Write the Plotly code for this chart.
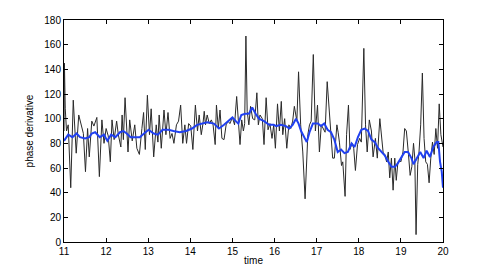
import plotly.graph_objects as go

# raw phase derivative (black)
raw_t = [
    11.00, 11.01, 11.03, 11.06, 11.10, 11.16, 11.22, 11.29, 11.35, 11.40,
    11.46, 11.51, 11.56, 11.60, 11.66, 11.71, 11.78, 11.84, 11.90, 11.95,
    12.00, 12.05, 12.10, 12.14, 12.19, 12.25, 12.29, 12.35, 12.38, 12.41,
    12.45, 12.52, 12.56, 12.62, 12.68, 12.73, 12.79, 12.85, 12.89, 12.93,
    12.98, 13.03, 13.07, 13.13, 13.19, 13.23, 13.26, 13.31, 13.375, 13.42,
    13.47, 13.52, 13.565, 13.61, 13.67, 13.72, 13.77, 13.82, 13.87, 13.91,
    13.96, 14.01, 14.06, 14.12, 14.17, 14.21, 14.26, 14.30, 14.33, 14.36,
    14.40, 14.45, 14.50, 14.54, 14.59, 14.62, 14.665, 14.705, 14.75, 14.80,
    14.85, 14.895, 14.94, 15.00, 15.05, 15.10, 15.14, 15.18, 15.22, 15.26,
    15.29, 15.32, 15.35, 15.39, 15.43, 15.48, 15.53, 15.58, 15.615, 15.655,
    15.71, 15.75, 15.80, 15.845, 15.89, 15.94, 15.98, 16.02, 16.07, 16.115,
    16.16, 16.195, 16.24, 16.29, 16.34, 16.385, 16.43, 16.47, 16.53, 16.57,
    16.62, 16.67, 16.725, 16.79, 16.83, 16.87, 16.92, 16.97, 17.02, 17.065,
    17.11, 17.16, 17.20, 17.25, 17.29, 17.33, 17.38, 17.42, 17.48, 17.51,
    17.54, 17.59, 17.62, 17.675, 17.71, 17.755, 17.79, 17.84, 17.88, 17.92,
    17.97, 18.02, 18.06, 18.12, 18.16, 18.20, 18.25, 18.30, 18.34, 18.395,
    18.44, 18.50, 18.54, 18.58, 18.62, 18.66, 18.70, 18.735, 18.775, 18.815,
    18.855, 18.89, 18.93, 18.97, 19.00, 19.05, 19.09, 19.13, 19.18, 19.22,
    19.26, 19.30, 19.33, 19.36, 19.40, 19.43, 19.47, 19.51, 19.55, 19.59,
    19.63, 19.67, 19.71, 19.75, 19.79, 19.83, 19.87, 19.91, 19.95, 20.00,
]
raw_v = [
    90, 145, 108, 90, 95, 44, 115, 72, 103, 95,
    88, 57, 92, 69, 98, 94, 101, 53, 99, 80,
    92, 86, 65, 99, 83, 98, 87, 77, 103, 83,
    117, 73, 99, 82, 95, 76, 71, 92, 105, 75,
    119, 87, 108, 69, 95, 81, 103, 76, 107, 87,
    105, 84, 88, 80, 95, 98, 111, 80, 95, 80,
    96, 94, 75, 111, 90, 103, 87, 96, 106, 95,
    103, 96, 99, 95, 79, 111, 92, 107, 84, 83,
    95, 98, 96, 101, 95, 118, 96, 79, 99, 90,
    96, 167, 106, 95, 110, 100, 99, 121, 95, 103,
    100, 79, 117, 91, 96, 84, 95, 76, 112, 90,
    114, 87, 100, 76, 95, 92, 98, 110, 98, 138,
    95, 73, 35, 87, 95, 98, 152, 90, 111, 73,
    95, 92, 89, 130, 111, 90, 68, 68, 95, 89,
    81, 62, 65, 37, 87, 111, 75, 80, 76, 58,
    79, 84, 81, 157, 95, 73, 99, 90, 69, 84,
    68, 100, 87, 72, 71, 65, 73, 52, 68, 42,
    68, 50, 65, 66, 65, 73, 92, 90, 71, 54,
    61, 80, 68, 6, 63, 73, 95, 137, 84, 65,
    63, 48, 68, 81, 71, 92, 76, 112, 87, 77,
]

# smoothed estimate (blue)
smooth_t = [
    11.00, 11.04, 11.10, 11.20, 11.30, 11.38, 11.50, 11.60, 11.66, 11.74,
    11.85, 11.95, 12.03, 12.12, 12.22, 12.33, 12.41, 12.49, 12.58, 12.70,
    12.80, 12.90, 13.01, 13.13, 13.23, 13.34, 13.48, 13.60, 13.75, 13.90,
    14.04, 14.16, 14.28, 14.40, 14.56, 14.68, 14.80, 14.90, 15.00, 15.08,
    15.14, 15.21, 15.30, 15.39, 15.47, 15.55, 15.63, 15.75, 15.87, 15.98,
    16.04, 16.15, 16.27, 16.35, 16.43, 16.51, 16.57, 16.63, 16.71, 16.765,
    16.83, 16.91, 17.03, 17.10, 17.18, 17.26, 17.34, 17.42, 17.50, 17.58,
    17.66, 17.74, 17.83, 17.90, 17.98, 18.06, 18.14, 18.22, 18.30, 18.38,
    18.46, 18.54, 18.62, 18.70, 18.78, 18.86, 18.93, 19.00, 19.09, 19.17,
    19.25, 19.30, 19.38, 19.46, 19.54, 19.61, 19.69, 19.77, 19.85, 19.89,
    19.93, 19.97, 20.00,
]
smooth_v = [
    82, 84, 87, 85, 88, 85, 84, 85, 88, 89,
    85, 87, 82, 87, 85, 89, 90, 88, 85, 85,
    85, 88, 91, 88, 87, 91, 91, 90, 89, 90,
    92, 95, 96, 97, 96, 92, 95, 98, 101, 98,
    96, 103, 104, 104, 109, 104, 100, 98, 95, 95,
    94, 95, 94, 92, 95, 100, 96, 90, 84, 81,
    89, 96, 96, 94, 96, 91, 89, 83, 73, 75,
    72, 73, 80, 77, 85, 91, 92, 90, 83, 81,
    76, 73, 70, 65, 61, 61, 64, 68, 73, 73,
    68, 63, 68, 73, 68, 74, 69, 77, 81, 81,
    65, 57, 44,
]

fig = go.Figure()
fig.add_trace(go.Scatter(x=raw_t, y=raw_v, mode="lines",
                         line={"color": "#2a2a2a", "width": 1}))
fig.add_trace(go.Scatter(x=smooth_t, y=smooth_v, mode="lines",
                         line={"color": "#2040f0", "width": 2}))

axis_style = dict(
    showline=True, linecolor="black", linewidth=1, mirror="ticks",
    ticks="inside", ticklen=4, tickcolor="black", showgrid=False,
    zeroline=False, automargin=False,
    tickfont={"size": 10, "color": "black"},
)
fig.update_xaxes(range=[11, 20], dtick=1, title={"text": "time", "standoff": 0,
                 "font": {"size": 10}}, **axis_style)
fig.update_yaxes(range=[0, 180], dtick=20, title={"text": "phase derivative",
                 "standoff": 8, "font": {"size": 10}}, **axis_style)
# the page body adds an 8px offset, so margins are set to land the
# plot box at the reference position
fig.update_layout(
    width=491, height=273,
    margin={"l": 56, "r": 56, "t": 12, "b": 39},
    showlegend=False,
    plot_bgcolor="white", paper_bgcolor="white",
    font={"family": "Liberation Sans, Arial, sans-serif", "color": "black"},
)
fig.write_html("out.html")
